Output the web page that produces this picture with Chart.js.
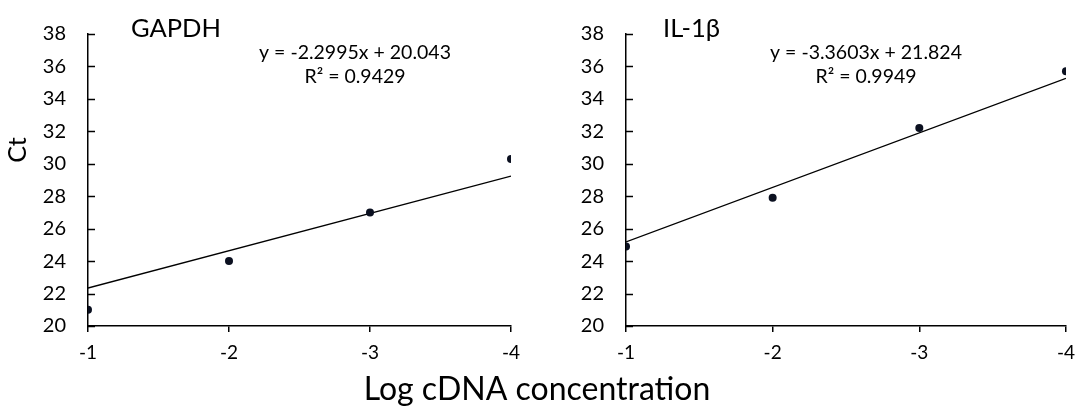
<!DOCTYPE html>
<html>
<head>
<meta charset="utf-8">
<script src="https://cdn.jsdelivr.net/npm/chart.js@4.4.0/dist/chart.umd.min.js"></script>
<style>
  body { margin: 0; background: #fff; }
  #wrap { position: relative; width: 1084px; height: 410px; background: #fff; }
  #wrap canvas { position: absolute; left: 0; top: 0; }
</style>
</head>
<body>
<div id="wrap">
  <canvas id="gapdh" width="1084" height="410"></canvas>
  <canvas id="il1b" width="1084" height="410"></canvas>
</div>
<script>
// data
const logConc = [-1, -2, -3, -4];
const ctGapdh = [21.0, 24.0, 27.0, 30.3];
const ctIl1b = [24.9, 27.9, 32.2, 35.7];
const ctTicks = [20, 22, 24, 26, 28, 30, 32, 34, 36, 38];
const fitGapdh = { slope: -2.2995, intercept: 20.043, r2: 0.9429 };
const fitIl1b = { slope: -3.3603, intercept: 21.824, r2: 0.9949 };

const FONT = "Lato, 'Open Sans', sans-serif";
Chart.defaults.font.family = FONT;
Chart.defaults.color = "#000";

function textPlugin(items) {
  return {
    id: "texts",
    afterDraw(chart) {
      const ctx = chart.ctx;
      ctx.save();
      ctx.fillStyle = "#000";
      ctx.textBaseline = "alphabetic";
      items.forEach((t) => {
        ctx.save();
        ctx.font = t.font;
        ctx.textAlign = t.align || "left";
        ctx.translate(t.x, t.y);
        if (t.rot) ctx.rotate(t.rot);
        ctx.fillText(t.text, 0, 0);
        ctx.restore();
      });
      ctx.restore();
    }
  };
}

// Excel style y ticks pointing into the plot
const innerTicks = {
  id: "innerTicks",
  afterDatasetsDraw(chart) {
    const ctx = chart.ctx;
    const y = chart.scales.y;
    const left = chart.chartArea.left;
    ctx.save();
    ctx.strokeStyle = "#000";
    ctx.lineWidth = 1.5;
    y.ticks.forEach((t) => {
      const py = Math.round(y.getPixelForValue(t.value)) + 0.5;
      ctx.beginPath();
      ctx.moveTo(left, py);
      ctx.lineTo(left + 7, py);
      ctx.stroke();
    });
    ctx.restore();
  }
};

function makeChart(id, values, fit, padLeft, padRight, yWidth, texts) {
  const points = logConc.map((x, i) => ({ x, y: values[i] }));
  const xs = [logConc[0], logConc[logConc.length - 1]];
  const trend = xs.map((x) => ({ x, y: fit.slope * x + fit.intercept }));
  return new Chart(document.getElementById(id), {
    type: "scatter",
    data: {
      datasets: [
        {
          data: points,
          pointRadius: 4,
          pointHoverRadius: 4,
          pointBackgroundColor: "#0b1020",
          pointBorderWidth: 0
        },
        {
          type: "line",
          data: trend,
          borderColor: "#000",
          borderWidth: 1.3,
          pointRadius: 0,
          fill: false
        }
      ]
    },
    options: {
      responsive: false,
      animation: false,
      layout: { padding: { left: padLeft, right: padRight, top: 17, bottom: 44 } },
      plugins: { legend: { display: false }, tooltip: { enabled: false } },
      scales: {
        x: {
          type: "linear",
          reverse: true,
          min: -4,
          max: -1,
          afterBuildTicks: (s) => { s.ticks = logConc.map((v) => ({ value: v })); },
          afterFit: (s) => { s.height = 40; },
          ticks: { font: { size: 19 }, padding: 9, color: "#000" },
          grid: { drawOnChartArea: false, drawTicks: true, tickLength: 6, color: "#000", lineWidth: 1.5 },
          border: { display: true, color: "#000", width: 1.5 }
        },
        y: {
          min: 20,
          max: 38,
          afterBuildTicks: (s) => { s.ticks = ctTicks.map((v) => ({ value: v })); },
          afterFit: (s) => { s.width = yWidth; },
          ticks: { font: { size: 20 }, padding: 22, color: "#000" },
          grid: { display: false, drawOnChartArea: false, drawTicks: false },
          border: { display: true, color: "#000", width: 1.5 }
        }
      }
    },
    plugins: [innerTicks, textPlugin(texts)]
  });
}

const eqFont = "19.5px " + FONT;
const eq = (f) => `y = ${f.slope}x + ${f.intercept}`;
const r2 = (f) => `R\u00B2 = ${f.r2}`;

makeChart("gapdh", ctGapdh, fitGapdh, 0, 573, 88, [
  { text: "GAPDH", x: 131, y: 37, font: "25.5px " + FONT },
  { text: eq(fitGapdh), x: 355, y: 59, font: eqFont, align: "center" },
  { text: r2(fitGapdh), x: 355, y: 83, font: eqFont, align: "center" },
  { text: "Ct", x: 26, y: 150, font: "25px " + FONT, align: "center", rot: -Math.PI / 2 },
  { text: "Log cDNA concentration", x: 537, y: 400, font: "32px " + FONT, align: "center" }
]);

makeChart("il1b", ctIl1b, fitIl1b, 540, 14, 86, [
  { text: "IL-1\u03B2", x: 663, y: 37, font: "25.5px " + FONT },
  { text: eq(fitIl1b), x: 866, y: 59, font: eqFont, align: "center" },
  { text: r2(fitIl1b), x: 866, y: 83, font: eqFont, align: "center" }
]);
</script>
</body>
</html>
